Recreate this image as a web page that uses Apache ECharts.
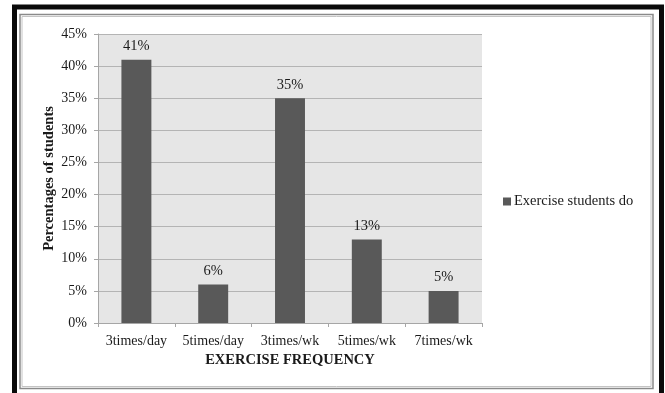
<!DOCTYPE html>
<html>
<head>
<meta charset="utf-8">
<script src="https://cdn.jsdelivr.net/npm/echarts@6/dist/echarts.min.js"></script>
<style>
  html, body { margin: 0; padding: 0; background: #ffffff; }
  #chart { width: 665px; height: 393px; }
</style>
</head>
<body>
<div id="chart"></div>
<script>
// Exercise frequency categories and the share of students in each
const categories = ['3times/day', '5times/day', '3times/wk', '5times/wk', '7times/wk'];
const percentages = [41, 6, 35, 13, 5];
const yTicks = { min: 0, max: 45, interval: 5 };
const seriesName = 'Exercise students do';

const serif = '"Liberation Serif", "Times New Roman", serif';
const chart = echarts.init(document.getElementById('chart'), null, { renderer: 'canvas' });

chart.setOption({
  backgroundColor: '#ffffff',
  animation: false,
  textStyle: { fontFamily: serif, color: '#1a1a1a' },
  graphic: [
    // heavy outer frame
    { type: 'rect', shape: { x: 14.5, y: 7, width: 647, height: 400 },
      style: { fill: 'none', stroke: '#0a0a0a', lineWidth: 5 }, silent: true },
    // thin inner double frame
    { type: 'rect', shape: { x: 20, y: 14.5, width: 633, height: 374 },
      style: { fill: 'none', stroke: '#8a8a8a', lineWidth: 1.5 }, silent: true },
    { type: 'rect', shape: { x: 22, y: 16.5, width: 629, height: 370 },
      style: { fill: 'none', stroke: '#c4c4c4', lineWidth: 1 }, silent: true }
  ],
  grid: {
    left: 98, right: 183, top: 34, bottom: 70,
    show: true, backgroundColor: '#e6e6e6', borderWidth: 0
  },
  legend: {
    left: 498, top: 189,
    itemWidth: 8, itemHeight: 8, itemGap: 4,
    icon: 'rect',
    textStyle: { fontFamily: serif, fontSize: 14.5, color: '#1a1a1a', padding: [0, 0, 0, -2] },
    data: [seriesName]
  },
  xAxis: {
    type: 'category',
    data: categories,
    name: 'EXERCISE FREQUENCY',
    nameLocation: 'middle',
    nameGap: 30,
    nameMoveOverlap: false,
    nameTextStyle: { fontFamily: serif, fontSize: 14.5, fontWeight: 'bold', color: '#1a1a1a' },
    axisLine: { lineStyle: { color: '#a6a6a6', width: 1 } },
    axisTick: { show: true, length: 4, alignWithLabel: false, lineStyle: { color: '#a6a6a6' } },
    axisLabel: { fontFamily: serif, fontSize: 14, color: '#1a1a1a', margin: 11, interval: 0 }
  },
  yAxis: {
    type: 'value',
    min: yTicks.min, max: yTicks.max, interval: yTicks.interval,
    name: 'Percentages of students',
    nameLocation: 'middle',
    nameGap: 41,
    nameMoveOverlap: false,
    nameTextStyle: { fontFamily: serif, fontSize: 14.5, fontWeight: 'bold', color: '#1a1a1a' },
    axisLine: { show: true, lineStyle: { color: '#a6a6a6', width: 1 } },
    axisTick: { show: true, length: 4, lineStyle: { color: '#a6a6a6' } },
    axisLabel: { fontFamily: serif, fontSize: 14, color: '#1a1a1a', margin: 11,
      formatter: v => v + '%' },
    splitLine: { show: true, lineStyle: { color: '#b4b4b4', width: 1 } }
  },
  series: [{
    name: seriesName,
    type: 'bar',
    data: percentages,
    barWidth: '39%',
    itemStyle: { color: '#595959' },
    label: {
      show: true, position: 'top', distance: 6,
      fontFamily: serif, fontSize: 14.5, color: '#1a1a1a',
      formatter: p => p.value + '%'
    }
  }]
});
</script>
</body>
</html>
